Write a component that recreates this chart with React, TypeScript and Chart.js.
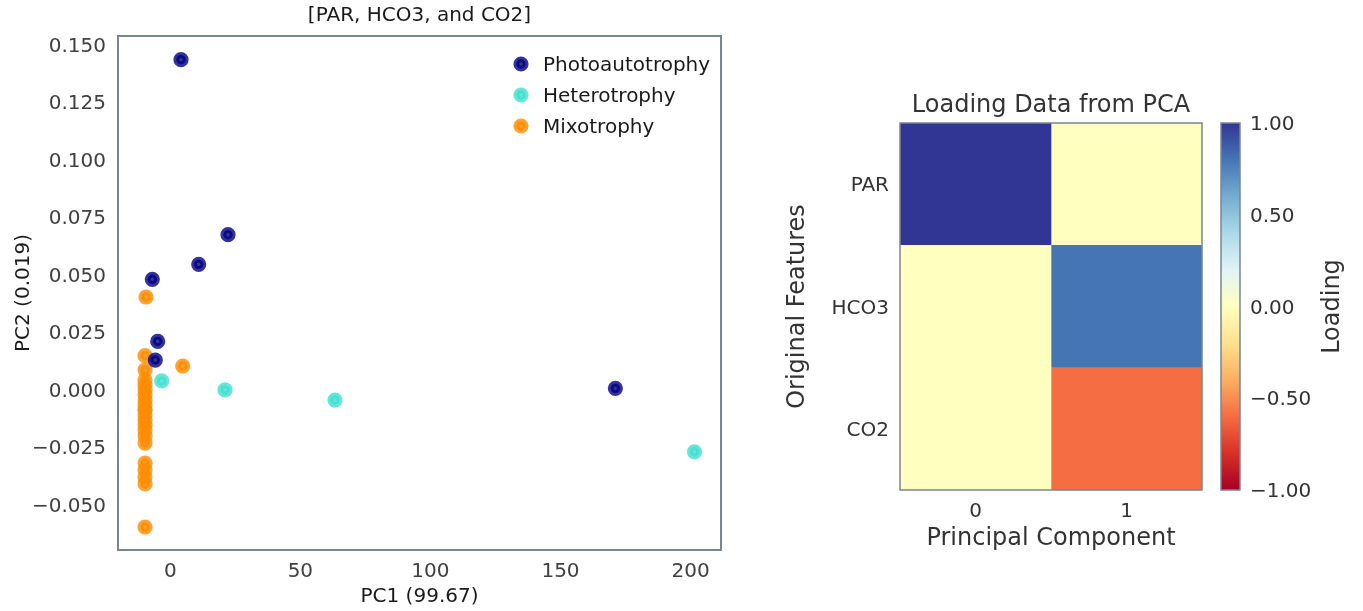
import React, { useEffect, useRef } from "react";
import { Chart, registerables } from "chart.js";

Chart.register(...registerables);

const FONT = "'DejaVu Sans', 'Liberation Sans', sans-serif";
const INK = "#1a1a1a";
const TICK_INK = "#404040";
const HEAT_INK = "#333333";
const FRAME = "#7b8590";

// PCA scores (PC1, PC2) for each trophic mode
const groups = ["Photoautotrophy", "Heterotrophy", "Mixotrophy"];
const groupColors = ["#000080", "#40e0d0", "#ff8c00"];

const photoPC1 = [4.12, 22.19, 10.93, -6.91, -4.84, -5.76, 171.1];
const photoPC2 = [0.1434, 0.0673, 0.0544, 0.0479, 0.0209, 0.0128, 0.0005];

const heteroPC1 = [-3.3, 21.04, 63.3, 201.5, -9.72];
const heteroPC2 = [0.0037, -0.0002, -0.0046, -0.0271, -0.0089];

const mixoPC1 = [
  -9.33, 4.77, -9.72, -9.7, -9.72, -9.75, -9.7, -9.72, -9.68, -9.72, -9.7, -9.74,
  -9.72, -9.7, -9.72, -9.7, -9.72, -9.7, -9.72, -9.74, -9.7, -9.72,
];
const mixoPC2 = [
  0.0402, 0.0102, 0.0147, 0.0085, 0.0041, 0.0019, -0.0002, -0.0024, -0.0046, -0.0067,
  -0.0089, -0.0111, -0.0133, -0.0154, -0.0176, -0.0202, -0.0233, -0.032, -0.035,
  -0.0381, -0.0411, -0.0598,
];

const pc1Ticks = [0, 50, 100, 150, 200];
const pc2Ticks = [-0.05, -0.025, 0, 0.025, 0.05, 0.075, 0.1, 0.125, 0.15];
const pc1Limits = [-20.1, 211.7];
const pc2Limits = [-0.0698, 0.1537];

// Loadings of the original features on the two principal components
const features = ["PAR", "HCO3", "CO2"];
const components = [0, 1];
const loadingsPC0 = [1.0, 0.0, 0.0];
const loadingsPC1 = [0.0, 0.8, -0.6];
const colorbarTicks = [-1, -0.5, 0, 0.5, 1];
const colorbarRange = [-1, 1];

// RdYlBu colormap anchors, low -> high
const RDYLBU = [
  "#a50026", "#d73027", "#f46d43", "#fdae61", "#fee090", "#ffffbf",
  "#e0f3f8", "#abd9e9", "#74add1", "#4575b4", "#313695",
];

function hexToRgb(h: string): number[] {
  const n = parseInt(h.slice(1), 16);
  return [(n >> 16) & 255, (n >> 8) & 255, n & 255];
}

function rgba(h: string, a: number): string {
  const [r, g, b] = hexToRgb(h);
  return `rgba(${r},${g},${b},${a})`;
}

function rdylbu(t: number): string {
  const s = Math.max(0, Math.min(1, t)) * (RDYLBU.length - 1);
  const i = Math.min(RDYLBU.length - 2, Math.floor(s));
  const f = s - i;
  const a = hexToRgb(RDYLBU[i]);
  const b = hexToRgb(RDYLBU[i + 1]);
  const c = a.map((v, k) => Math.round(v + (b[k] - v) * f));
  return `rgb(${c[0]},${c[1]},${c[2]})`;
}

const loadingColor = (v: number) =>
  rdylbu((v - colorbarRange[0]) / (colorbarRange[1] - colorbarRange[0]));

const signed = (v: number, d: number) =>
  (v < -1e-12 ? "\u2212" : "") + Math.abs(v).toFixed(d);

const MARK_R = 4.7;
const MARK_W = 5.8;

function drawMarker(ctx: CanvasRenderingContext2D, x: number, y: number, color: string) {
  ctx.beginPath();
  ctx.arc(x, y, MARK_R, 0, Math.PI * 2);
  ctx.fillStyle = rgba(color, 0.8);
  ctx.fill();
  ctx.lineWidth = MARK_W;
  ctx.strokeStyle = rgba(color, 0.8);
  ctx.stroke();
}

const framePlugin = (width: number) => ({
  id: "frame",
  afterDatasetsDraw(chart: any) {
    const { ctx, chartArea: a } = chart;
    ctx.save();
    ctx.strokeStyle = FRAME;
    ctx.lineWidth = width;
    ctx.strokeRect(a.left, a.top, a.right - a.left, a.bottom - a.top);
    ctx.restore();
  },
});

const scatterLegend = {
  id: "scatterLegend",
  afterDraw(chart: any) {
    const { ctx, chartArea: a } = chart;
    ctx.save();
    ctx.font = `20px ${FONT}`;
    ctx.textBaseline = "middle";
    ctx.textAlign = "left";
    groups.forEach((g, i) => {
      const y = a.top + 28 + i * 31;
      drawMarker(ctx, a.right - 200, y, groupColors[i]);
      ctx.fillStyle = INK;
      ctx.fillText(g, a.right - 178, y + 1.5);
    });
    ctx.restore();
  },
};

const colorbarLabel = {
  id: "colorbarLabel",
  afterDraw(chart: any) {
    const { ctx, chartArea: a } = chart;
    ctx.save();
    ctx.translate(a.right + 93, (a.top + a.bottom) / 2);
    ctx.rotate(-Math.PI / 2);
    ctx.font = `24px ${FONT}`;
    ctx.fillStyle = HEAT_INK;
    ctx.textAlign = "center";
    ctx.textBaseline = "middle";
    ctx.fillText("Loading", 0, 0);
    ctx.restore();
  },
};

function toPoints(xs: number[], ys: number[]) {
  return xs.map((x, i) => ({ x, y: ys[i] }));
}

function scatterConfig(): any {
  const series = [
    { xs: photoPC1, ys: photoPC2, order: 0 },
    { xs: heteroPC1, ys: heteroPC2, order: 2 },
    { xs: mixoPC1, ys: mixoPC2, order: 1 },
  ];
  return {
    type: "scatter",
    data: {
      datasets: series.map((s, i) => ({
        label: groups[i],
        data: toPoints(s.xs, s.ys),
        order: s.order,
        pointRadius: MARK_R,
        pointHoverRadius: MARK_R,
        pointBorderWidth: MARK_W,
        pointBackgroundColor: rgba(groupColors[i], 0.8),
        pointBorderColor: rgba(groupColors[i], 0.8),
      })),
    },
    options: {
      responsive: false,
      animation: false,
      events: [],
      layout: { padding: { left: 0, right: 19, top: 0, bottom: 0 } },
      plugins: {
        legend: { display: false },
        tooltip: { enabled: false },
        title: {
          display: true,
          fullSize: false,
          text: "[PAR, HCO3, and CO2]",
          color: INK,
          font: { family: FONT, size: 20, weight: "normal" },
          padding: { top: 4, bottom: 8 },
        },
      },
      scales: {
        x: {
          type: "linear",
          min: pc1Limits[0],
          max: pc1Limits[1],
          afterBuildTicks: (s: any) => {
            s.ticks = pc1Ticks.map((v) => ({ value: v }));
          },
          afterFit: (s: any) => {
            s.height = 61;
          },
          grid: { display: false, drawTicks: false },
          border: { display: false },
          ticks: {
            color: TICK_INK,
            font: { family: FONT, size: 20 },
            padding: 10,
            maxRotation: 0,
            callback: (v: number) => String(v),
          },
          title: {
            display: true,
            text: "PC1 (99.67)",
            color: INK,
            font: { family: FONT, size: 20 },
            padding: { top: 0, bottom: 2 },
          },
        },
        y: {
          type: "linear",
          min: pc2Limits[0],
          max: pc2Limits[1],
          afterBuildTicks: (s: any) => {
            s.ticks = pc2Ticks.map((v) => ({ value: v }));
          },
          afterFit: (s: any) => {
            s.width = 118;
          },
          grid: { display: false, drawTicks: false },
          border: { display: false },
          ticks: {
            color: TICK_INK,
            font: { family: FONT, size: 20 },
            padding: 12,
            labelOffset: 2,
            callback: (v: number) => signed(v, 3),
          },
          title: {
            display: true,
            text: "PC2 (0.019)",
            color: INK,
            font: { family: FONT, size: 20 },
            padding: { top: 11.5, bottom: 0 },
          },
        },
      },
    },
    plugins: [framePlugin(2), scatterLegend],
  };
}

function heatmapConfig(): any {
  const columns = [loadingsPC0, loadingsPC1];
  return {
    type: "bar",
    data: {
      labels: features,
      datasets: columns.map((vals, c) => ({
        label: `PC${components[c]}`,
        data: vals.map(() => [components[c] - 0.5, components[c] + 0.5]),
        backgroundColor: vals.map(loadingColor),
        borderWidth: 0,
        barPercentage: 1,
        categoryPercentage: 1,
        grouped: false,
      })),
    },
    options: {
      indexAxis: "y",
      responsive: false,
      animation: false,
      events: [],
      layout: { padding: { left: 0, right: 8, top: 0, bottom: 0 } },
      plugins: {
        legend: { display: false },
        tooltip: { enabled: false },
        title: {
          display: true,
          fullSize: false,
          text: "Loading Data from PCA",
          color: HEAT_INK,
          font: { family: FONT, size: 24, weight: "normal" },
          padding: { top: 91.6, bottom: 2.6 },
        },
      },
      scales: {
        x: {
          type: "linear",
          min: components[0] - 0.5,
          max: components[components.length - 1] + 0.5,
          afterBuildTicks: (s: any) => {
            s.ticks = components.map((v) => ({ value: v }));
          },
          afterFit: (s: any) => {
            s.height = 121;
          },
          grid: { display: false, drawTicks: false },
          border: { display: false },
          ticks: {
            color: HEAT_INK,
            font: { family: FONT, size: 20 },
            padding: 10,
            callback: (v: number) => String(v),
          },
          title: {
            display: true,
            text: "Principal Component",
            color: HEAT_INK,
            font: { family: FONT, size: 24 },
            padding: { top: 0, bottom: 57.6 },
          },
        },
        y: {
          type: "category",
          afterFit: (s: any) => {
            s.width = 140;
          },
          grid: { display: false, drawTicks: false },
          border: { display: false },
          ticks: {
            color: HEAT_INK,
            font: { family: FONT, size: 20 },
            padding: 11,
            labelOffset: 2,
          },
          title: {
            display: true,
            text: "Original Features",
            color: HEAT_INK,
            font: { family: FONT, size: 24 },
            padding: { top: 23, bottom: 0 },
          },
        },
      },
    },
    plugins: [framePlugin(1.5)],
  };
}

function colorbarConfig(): any {
  return {
    type: "bar",
    data: {
      labels: ["Loading"],
      datasets: [
        {
          data: [[colorbarRange[0], colorbarRange[1]]],
          borderWidth: 0,
          barPercentage: 1,
          categoryPercentage: 1,
          backgroundColor: (context: any) => {
            const chart = context.chart;
            const y = chart.scales && chart.scales.y;
            if (!y) return RDYLBU[5];
            const y0 = y.getPixelForValue(colorbarRange[0]);
            const y1 = y.getPixelForValue(colorbarRange[1]);
            if (!isFinite(y0) || !isFinite(y1) || y0 === y1) return RDYLBU[5];
            const g = chart.ctx.createLinearGradient(0, y0, 0, y1);
            RDYLBU.forEach((c, i) => g.addColorStop(i / (RDYLBU.length - 1), c));
            return g;
          },
        },
      ],
    },
    options: {
      responsive: false,
      animation: false,
      events: [],
      layout: { padding: { left: 11, right: 0, top: 123, bottom: 121 } },
      plugins: { legend: { display: false }, tooltip: { enabled: false } },
      scales: {
        x: { display: false },
        y: {
          type: "linear",
          position: "right",
          min: colorbarRange[0],
          max: colorbarRange[1],
          afterBuildTicks: (s: any) => {
            s.ticks = colorbarTicks.map((v) => ({ value: v }));
          },
          afterFit: (s: any) => {
            s.width = 123;
          },
          grid: { display: false, drawTicks: false },
          border: { display: false },
          ticks: {
            color: HEAT_INK,
            font: { family: FONT, size: 20 },
            padding: 10,
            labelOffset: 2,
            callback: (v: number) => signed(v, 2),
          },
        },
      },
    },
    plugins: [framePlugin(1.5), colorbarLabel],
  };
}

export default function App() {
  const scatterRef = useRef<HTMLCanvasElement>(null);
  const heatRef = useRef<HTMLCanvasElement>(null);
  const barRef = useRef<HTMLCanvasElement>(null);

  useEffect(() => {
    const charts: Chart[] = [];
    if (scatterRef.current) charts.push(new Chart(scatterRef.current, scatterConfig()));
    if (heatRef.current) charts.push(new Chart(heatRef.current, heatmapConfig()));
    if (barRef.current) charts.push(new Chart(barRef.current, colorbarConfig()));
    return () => charts.forEach((c) => c.destroy());
  }, []);

  return (
    <div
      style={{
        position: "fixed",
        left: 0,
        top: 0,
        width: 1363,
        height: 611,
        background: "#ffffff",
      }}
    >
      <canvas ref={scatterRef} width={740} height={611} style={{ position: "absolute", left: 0, top: 0 }} />
      <canvas ref={heatRef} width={450} height={611} style={{ position: "absolute", left: 760, top: 0 }} />
      <canvas ref={barRef} width={153} height={611} style={{ position: "absolute", left: 1210, top: 0 }} />
    </div>
  );
}
